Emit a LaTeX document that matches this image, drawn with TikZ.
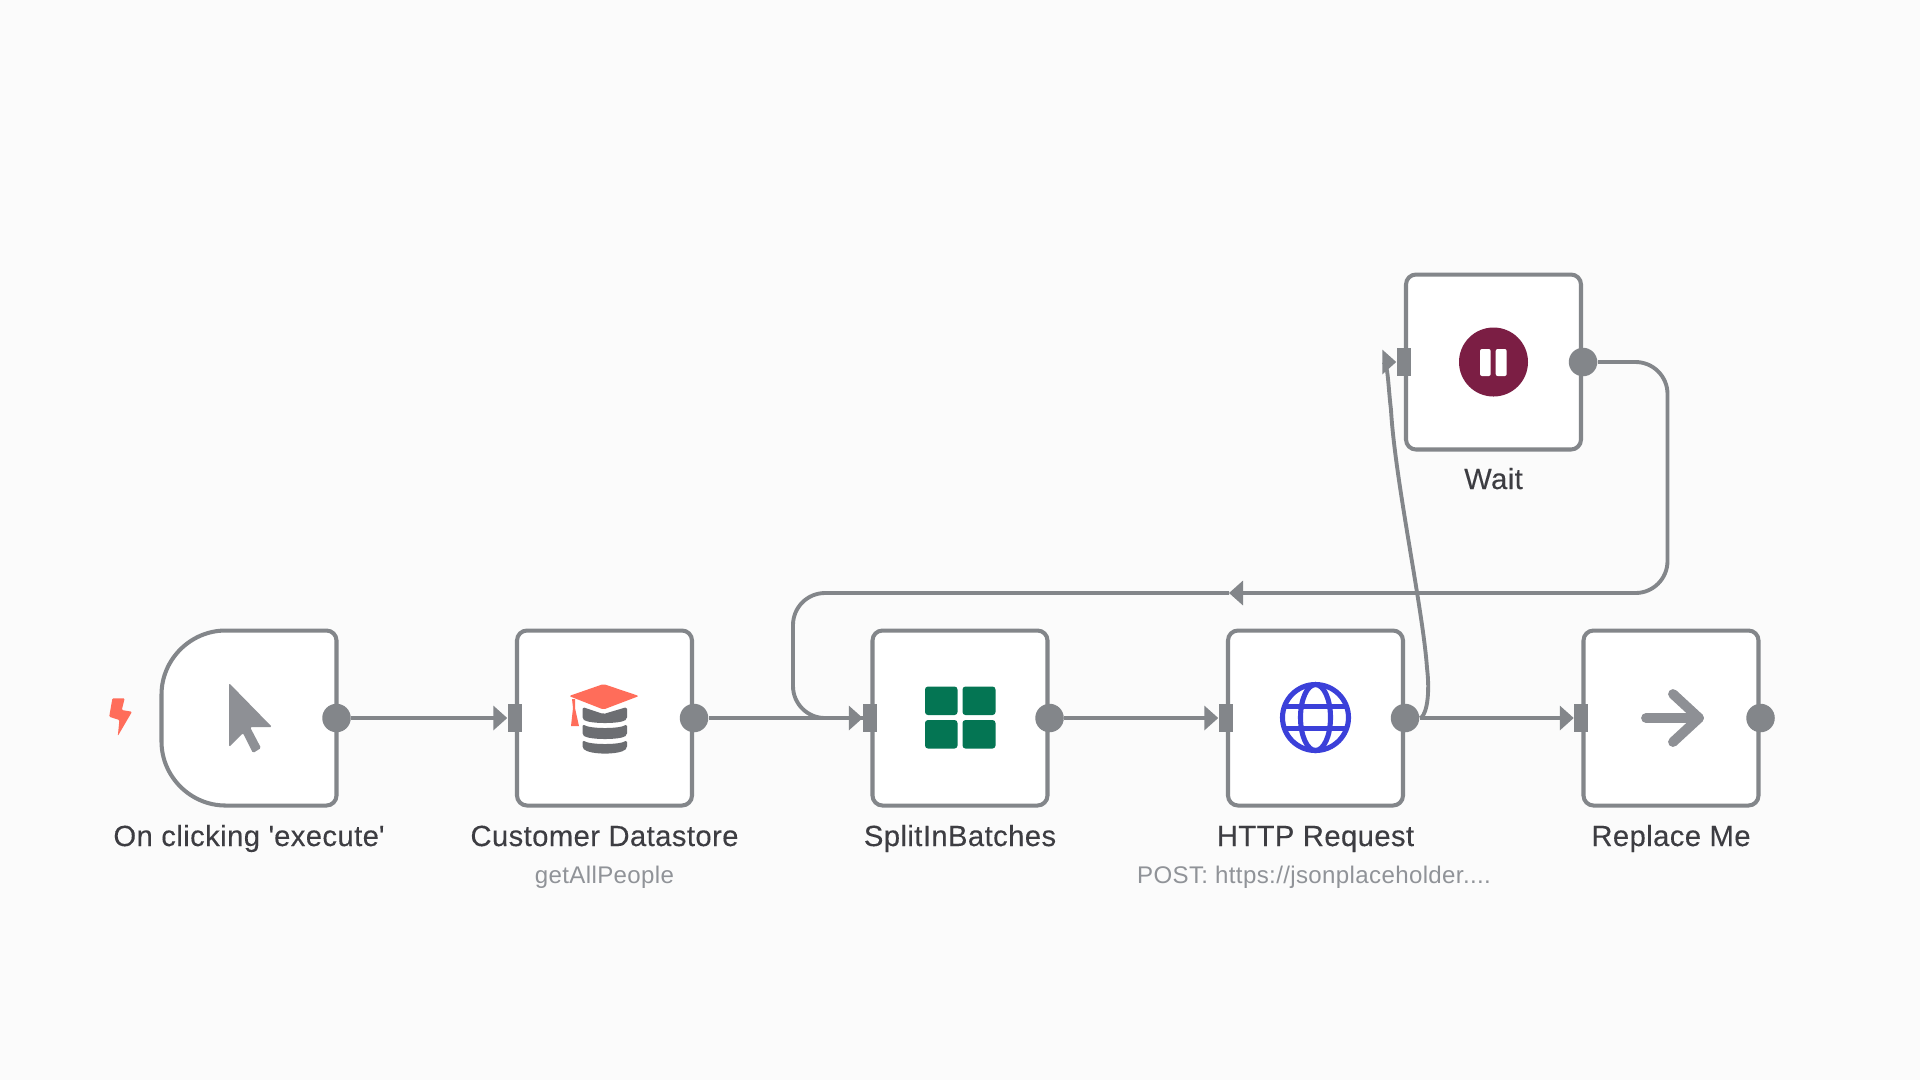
\documentclass[tikz,border=0pt]{standalone}
\usepackage{fontspec}
\setmainfont{Liberation Sans}
\usetikzlibrary{arrows.meta}
\definecolor{pagebg}{HTML}{FBFBFB}
\definecolor{linegray}{HTML}{83868A}
\definecolor{icongray}{HTML}{8E9095}
\definecolor{dbgray}{HTML}{6C6E72}
\definecolor{titletext}{HTML}{3D3D42}
\definecolor{subtext}{HTML}{909398}
\definecolor{flashred}{HTML}{FF6D5A}
\definecolor{gridgreen}{HTML}{047553}
\definecolor{globeblue}{HTML}{3B40D9}
\definecolor{pausered}{HTML}{7B1E44}
\tikzset{
    nodebox/.style={draw=linegray, fill=white, line width=1.15pt, rounded corners=1mm, minimum size=17.5mm, inner sep=0pt},
    inport/.style={fill=linegray, minimum width=1.4mm, minimum height=2.8mm, inner sep=0pt},
    outport/.style={circle, fill=linegray, minimum size=2.85mm, inner sep=0pt},
    wire/.style={draw=linegray, line width=1.1pt},
    wirehead/.style={wire, -{Triangle[length=1.4mm,width=2.4mm]}},
    title/.style={anchor=base, text=titletext, font=\fontsize{8.3pt}{10pt}\selectfont\addfontfeature{LetterSpace=1.5,FakeBold=0.25}, inner sep=0pt},
    subtitle/.style={anchor=base, text=subtext, font=\fontsize{6.85pt}{9pt}\selectfont\addfontfeature{LetterSpace=1.5}, inner sep=0pt}
}
\begin{document}
\begin{tikzpicture}[x=0.1mm,y=-0.1mm]
            \useasboundingbox[fill=pagebg] (0,0) rectangle (1920,1080);
            % boxes
            \node [minimum size=17.5mm, inner sep=0pt, outer sep=0pt] (trigger) at (249,718) {};
            \draw [draw=linegray, fill=white, line width=1.15pt] ([xshift=6.4mm]trigger.north west)
                .. controls +(-3.5mm,0) and +(0,3.5mm) .. ([yshift=-6.4mm]trigger.north west)
                -- ([yshift=6.4mm]trigger.south west)
                .. controls +(0,-3.5mm) and +(-3.5mm,0) .. ([xshift=6.4mm]trigger.south west)
                -- ([xshift=-1mm]trigger.south east)
                .. controls +(0.55mm,0) and +(0,-0.55mm) .. ([yshift=1mm]trigger.south east)
                -- ([yshift=-1mm]trigger.north east)
                .. controls +(0,0.55mm) and +(0.55mm,0) .. ([xshift=-1mm]trigger.north east)
                -- cycle;
            \node [nodebox] (store) at (604.5,718) {};
            \node [nodebox] (split) at (960,718) {};
            \node [nodebox] (http) at (1315.5,718) {};
            \node [nodebox] (noop) at (1671,718) {};
            \node [nodebox] (wait) at (1493.5,362) {};
            % ports
            \node [outport] (triggerout) at (trigger.east) {};
            \node [inport] (storein) at (store.west) {};
            \node [outport] (storeout) at (store.east) {};
            \node [inport] (splitin) at (split.west) {};
            \node [outport] (splitout) at (split.east) {};
            \node [inport] (httpin) at (http.west) {};
            \node [outport] (httpout) at (http.east) {};
            \node [inport] (noopin) at (noop.west) {};
            \node [outport] (noopout) at (noop.east) {};
            \node [inport] (waitin) at (wait.west) {};
            \node [outport] (waitout) at (wait.east) {};
            % connectors
            \draw [wirehead] (triggerout) -- (storein);
            \draw [wirehead] (storeout) -- (splitin);
            \draw [wirehead] (splitout) -- (httpin);
            \draw [wirehead] (httpout) -- (noopin);
            \coordinate (curvea) at (1427,668);
            \coordinate (curveb) at (1391,410);
            \draw [wirehead] (httpout) .. controls (1424,718) and (1431,702) .. (curvea)
                .. controls (1423,610) and (1395,480) .. (curveb)
                .. controls (1388,385) and (1388,362) .. (waitin.west);
            \coordinate (loopa) at (1667.5,362);
            \coordinate (loopb) at (1667.5,593);
            \coordinate (looptip) at (1229,593);
            \coordinate (loopc) at (793,593);
            \coordinate (loopd) at (793,718);
            \draw [wirehead, rounded corners=3.2mm] (waitout) -- (loopa) -- (loopb) -- (looptip);
            \draw [wire, rounded corners=3.2mm] (looptip) -- (loopc) -- (loopd) -- (splitin);
            % flash
            \fill [flashred, rounded corners=0.3pt] (112.4,698.3) -- (124.7,698.3) -- (121.8,710) -- (132,711.7) -- (117.8,736) -- (119.4,720) -- (109.2,716.7) -- cycle;
            % cursor
            \fill [icongray, rounded corners=0.4pt] (229,683) -- (272,727) -- (250,727) -- (261,748) -- (253,753) -- (243,733) -- (229,747) -- cycle;
            % database and cap
            \fill [dbgray, rounded corners=0.5pt] (582.5,707) -- (603.5,714) -- (627,707) -- (627,719) .. controls (620,724) and (590,724) .. (582.5,719) -- cycle;
            \fill [dbgray, rounded corners=0.5pt] (582.5,724) .. controls (590,729) and (620,729) .. (627,724) -- (627,735) .. controls (620,740) and (590,740) .. (582.5,735) -- cycle;
            \fill [dbgray, rounded corners=0.5pt] (582.5,740) .. controls (590,745) and (620,745) .. (627,740) -- (627,748) .. controls (620,755) and (590,755) .. (582.5,748) -- cycle;
            \fill [flashred, rounded corners=0.6pt] (569,696) -- (603.5,684) -- (639,696) -- (603.5,709.5) -- cycle;
            \fill [flashred] (572,699) -- (575,699) -- (575,708) -- (579,726) -- (571,726) -- (573,708) -- cycle;
            % grid
            \fill [gridgreen, rounded corners=0.3mm] (925,686.5) rectangle (957.5,715);
            \fill [gridgreen, rounded corners=0.3mm] (962.5,686.5) rectangle (995.5,715);
            \fill [gridgreen, rounded corners=0.3mm] (925,720) rectangle (957.5,748.5);
            \fill [gridgreen, rounded corners=0.3mm] (962.5,720) rectangle (995.5,748.5);
            % globe
            \draw [globeblue, line width=1.45pt] (1315.5,717.5) circle (33);
            \draw [globeblue, line width=1.45pt] (1315.5,717.5) ellipse (15 and 33);
            \draw [globeblue, line width=1.45pt] (1284.5,706.5) -- (1346.5,706.5);
            \draw [globeblue, line width=1.45pt] (1284.5,728.5) -- (1346.5,728.5);
            % right arrow
            \draw [icongray, line width=2.8pt, line cap=round, line join=round] (1646,718) -- (1699,718);
            \draw [icongray, line width=2.8pt, line cap=round, line join=round] (1673,694) -- (1699,718) -- (1673,742);
            % pause
            \fill [pausered] (1493.5,362) circle (34.5);
            \fill [white, rounded corners=0.2mm] (1480,349) rectangle (1490.7,376);
            \fill [white, rounded corners=0.2mm] (1495.7,349) rectangle (1506.7,376);
            % labels
            \node [title] (triggerlabel) at (249,846) {On clicking \textquotesingle execute\textquotesingle};
            \node [title] (storelabel) at (604.5,846) {Customer Datastore};
            \node [subtitle] (storesub) at (604.5,883) {getAllPeople};
            \node [title] (splitlabel) at (960,846) {SplitInBatches};
            \node [title] (httplabel) at (1315.5,846) {HTTP Request};
            \node [subtitle] (httpsub) at (1314,883) {POST: https://jsonplaceholder....};
            \node [title] (nooplabel) at (1671,846) {Replace Me};
            \node [title] (waitlabel) at (1493.5,489) {Wait};
        \end{tikzpicture}
\end{document}
